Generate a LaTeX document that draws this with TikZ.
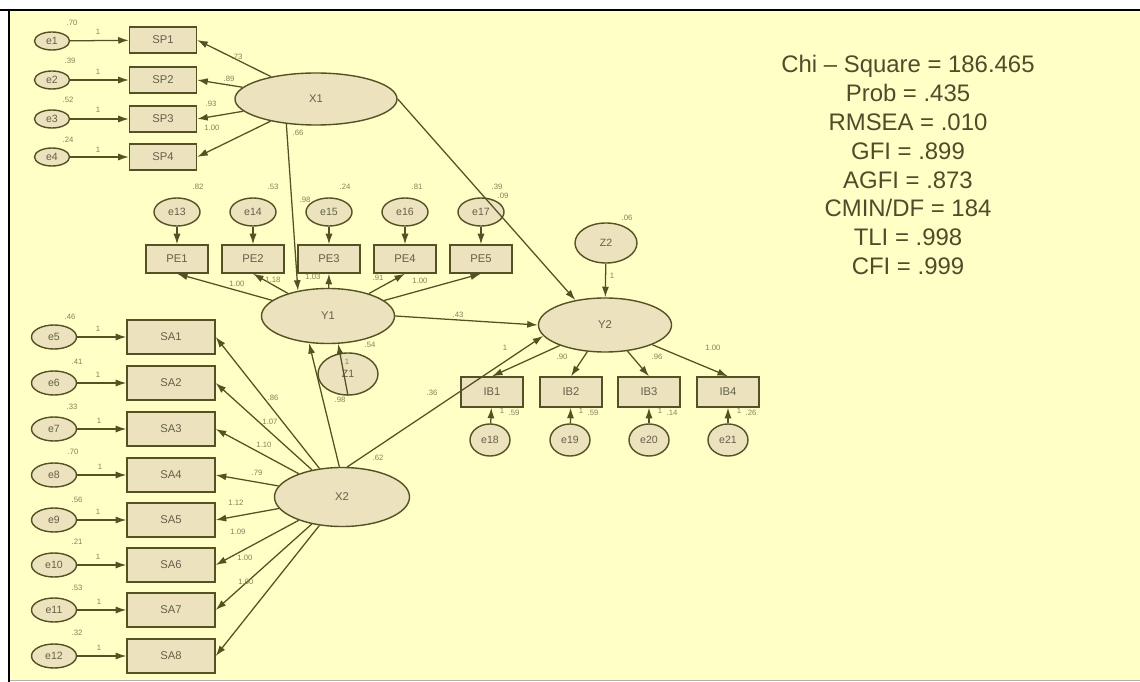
\documentclass[tikz,border=0pt]{standalone}
\usepackage{fontspec}
\setmainfont{Liberation Sans}
\usetikzlibrary{shapes.geometric,arrows.meta}
\definecolor{amosbg}{RGB}{255,255,198}
\definecolor{amosfill}{RGB}{236,226,190}
\definecolor{amosline}{RGB}{84,82,36}
\definecolor{amostext}{RGB}{100,96,74}
\definecolor{amoslab}{RGB}{135,128,90}
\definecolor{fittext}{RGB}{78,76,42}
\begin{document}
\begin{tikzpicture}[x=0.025cm,y=-0.025cm,
  obs/.style={draw=amosline,fill=amosfill,line width=1pt,inner sep=0pt,text=amostext,font=\fontsize{8}{9}\selectfont},
  lat/.style={obs,ellipse},
  err/.style={obs,ellipse,font=\fontsize{7.5}{8}\selectfont},
  path/.style={draw=amosline,line width=0.9pt,-{Latex[length=7.5pt,width=5pt]}},
  lab/.style={text=amoslab,inner sep=0pt,font=\fontsize{5.5}{6}\selectfont}]
\useasboundingbox (0,0) rectangle (1140,682);
% frame
\fill[white] (0,0) rectangle (1140,682);
\fill[amosbg] (10,11) rectangle (1140,680);
\draw[black,line width=2pt] (0,10) -- (1140,10);
\draw[black,line width=2pt] (9,10) -- (9,682);
\draw[gray!60,line width=0.6pt] (10,680) -- (1140,680);

% X1 block
\node[lat,minimum width=4.05cm,minimum height=1.3cm] (X1) at (316,99) {X1};
\node[obs,minimum width=1.675cm,minimum height=0.65cm] (SP1) at (163,40) {SP1};
\node[obs,minimum width=1.675cm,minimum height=0.65cm] (SP2) at (163,80) {SP2};
\node[obs,minimum width=1.675cm,minimum height=0.65cm] (SP3) at (163,119) {SP3};
\node[obs,minimum width=1.675cm,minimum height=0.65cm] (SP4) at (163,157) {SP4};
\node[err,minimum width=0.875cm,minimum height=0.45cm] (e1) at (52,41) {e1};
\node[err,minimum width=0.875cm,minimum height=0.45cm] (e2) at (52,80) {e2};
\node[err,minimum width=0.875cm,minimum height=0.45cm] (e3) at (52,119) {e3};
\node[err,minimum width=0.875cm,minimum height=0.45cm] (e4) at (52,157) {e4};
\draw[path] (e1) -- (SP1);
\draw[path] (e2) -- (SP2);
\draw[path] (e3) -- (SP3);
\draw[path] (e4) -- (SP4);
\draw[path] (X1) -- (SP1.east);
\draw[path] (X1) -- (SP2.east);
\draw[path] (X1) -- (SP3.east);
\draw[path] (X1) -- (SP4.east);

% Y1 block
\node[lat,minimum width=3.325cm,minimum height=1.375cm] (Y1) at (328,316) {Y1};
\node[obs,minimum width=1.55cm,minimum height=0.7cm] (PE1) at (177,259) {PE1};
\node[obs,minimum width=1.55cm,minimum height=0.7cm] (PE2) at (253,259) {PE2};
\node[obs,minimum width=1.55cm,minimum height=0.7cm] (PE3) at (329,259) {PE3};
\node[obs,minimum width=1.55cm,minimum height=0.7cm] (PE4) at (405,259) {PE4};
\node[obs,minimum width=1.55cm,minimum height=0.7cm] (PE5) at (481,259) {PE5};
\node[err,minimum width=1.15cm,minimum height=0.7cm] (e13) at (177,212) {e13};
\node[err,minimum width=1.15cm,minimum height=0.7cm] (e14) at (253,212) {e14};
\node[err,minimum width=1.15cm,minimum height=0.7cm] (e15) at (329,212) {e15};
\node[err,minimum width=1.15cm,minimum height=0.7cm] (e16) at (405,212) {e16};
\node[err,minimum width=1.15cm,minimum height=0.7cm] (e17) at (481,212) {e17};
\draw[path] (e13) -- (PE1);
\draw[path] (e14) -- (PE2);
\draw[path] (e15) -- (PE3);
\draw[path] (e16) -- (PE4);
\draw[path] (e17) -- (PE5);
\draw[path] (Y1) -- (PE1.south);
\draw[path] (Y1) -- (PE2.south);
\draw[path] (Y1) -- (PE3.south);
\draw[path] (Y1) -- (PE4.south);
\draw[path] (Y1) -- (PE5.south);
\node[err,minimum width=1.5cm,minimum height=1.05cm] (Z1) at (348,374) {Z1};
\draw[path] (Z1.south) -- (Y1.290);

% Y2 block
\node[lat,minimum width=3.325cm,minimum height=1.35cm] (Y2) at (605,325) {Y2};
\node[err,minimum width=1.55cm,minimum height=1.0cm] (Z2) at (606,243) {Z2};
\node[obs,minimum width=1.55cm,minimum height=0.75cm] (IB1) at (492,392) {IB1};
\node[obs,minimum width=1.55cm,minimum height=0.75cm] (IB2) at (571,392) {IB2};
\node[obs,minimum width=1.55cm,minimum height=0.75cm] (IB3) at (649,392) {IB3};
\node[obs,minimum width=1.55cm,minimum height=0.75cm] (IB4) at (728,392) {IB4};
\node[err,minimum width=1.0cm,minimum height=0.8cm] (e18) at (490,440) {e18};
\node[err,minimum width=1.0cm,minimum height=0.8cm] (e19) at (570,440) {e19};
\node[err,minimum width=1.0cm,minimum height=0.8cm] (e20) at (649,440) {e20};
\node[err,minimum width=1.0cm,minimum height=0.8cm] (e21) at (728,440) {e21};
\draw[path] (Z2) -- (Y2);
\draw[path] (Y2) -- (IB1.north);
\draw[path] (Y2) -- (IB2.north);
\draw[path] (Y2) -- (IB3.north);
\draw[path] (Y2) -- (IB4.north);
\draw[path] (e18) -- (IB1);
\draw[path] (e19) -- (IB2);
\draw[path] (e20) -- (IB3);
\draw[path] (e21) -- (IB4);

% X2 block
\node[lat,minimum width=3.375cm,minimum height=1.475cm] (X2) at (342,497) {X2};
\node[obs,minimum width=2.2cm,minimum height=0.85cm] (SA1) at (171,337) {SA1};
\node[obs,minimum width=2.2cm,minimum height=0.85cm] (SA2) at (171,383) {SA2};
\node[obs,minimum width=2.2cm,minimum height=0.85cm] (SA3) at (171,429) {SA3};
\node[obs,minimum width=2.2cm,minimum height=0.85cm] (SA4) at (171,475) {SA4};
\node[obs,minimum width=2.2cm,minimum height=0.85cm] (SA5) at (171,520) {SA5};
\node[obs,minimum width=2.2cm,minimum height=0.85cm] (SA6) at (171,565) {SA6};
\node[obs,minimum width=2.2cm,minimum height=0.85cm] (SA7) at (171,610) {SA7};
\node[obs,minimum width=2.2cm,minimum height=0.85cm] (SA8) at (171,656) {SA8};
\node[err,minimum width=1.125cm,minimum height=0.6cm] (e5) at (54,337) {e5};
\node[err,minimum width=1.125cm,minimum height=0.6cm] (e6) at (54,383) {e6};
\node[err,minimum width=1.125cm,minimum height=0.6cm] (e7) at (54,429) {e7};
\node[err,minimum width=1.125cm,minimum height=0.6cm] (e8) at (54,475) {e8};
\node[err,minimum width=1.125cm,minimum height=0.6cm] (e9) at (54,520) {e9};
\node[err,minimum width=1.125cm,minimum height=0.6cm] (e10) at (54,565) {e10};
\node[err,minimum width=1.125cm,minimum height=0.6cm] (e11) at (54,610) {e11};
\node[err,minimum width=1.125cm,minimum height=0.6cm] (e12) at (54,656) {e12};
\draw[path] (e5) -- (SA1);
\draw[path] (e6) -- (SA2);
\draw[path] (e7) -- (SA3);
\draw[path] (e8) -- (SA4);
\draw[path] (e9) -- (SA5);
\draw[path] (e10) -- (SA6);
\draw[path] (e11) -- (SA7);
\draw[path] (e12) -- (SA8);
\draw[path] (X2) -- (SA1.east);
\draw[path] (X2) -- (SA2.east);
\draw[path] (X2) -- (SA3.east);
\draw[path] (X2) -- (SA4.east);
\draw[path] (X2) -- (SA5.east);
\draw[path] (X2) -- (SA6.east);
\draw[path] (X2) -- (SA7.east);
\draw[path] (X2) -- (SA8.east);

% structural paths
\draw[path] (X1.220) -- (Y1.140);
\draw[path] (X1.east) -- (Y2.140);
\draw[path] (Y1.east) -- (Y2.west);
\draw[path] (X2.95) -- (Y1.235);
\draw[path] (X2.80) -- (Y2.190);

% estimates
\node[lab] (vE1) at (72,23) {.70};
\node[lab] (vE2) at (70,61) {.39};
\node[lab] (vE3) at (68,100) {.52};
\node[lab] (vE4) at (68,140) {.24};
\node[lab] (fE1) at (98,32) {1};
\node[lab] (fE2) at (98,72) {1};
\node[lab] (fE3) at (98,110) {1};
\node[lab] (fE4) at (98,150) {1};
\node[lab] (wSP1) at (237,57) {.73};
\node[lab] (wSP2) at (229,79) {.89};
\node[lab] (wSP3) at (211,104) {.93};
\node[lab] (wSP4) at (212,128) {1.00};
\node[lab] (gXY1) at (298,133) {.66};
\node[lab] (vE13) at (198,187) {.82};
\node[lab] (vE14) at (273,187) {.53};
\node[lab] (vE15) at (345,187) {.24};
\node[lab] (vE16) at (417,187) {.81};
\node[lab] (vE17) at (497,187) {.39};
\node[lab] (rPE3) at (305,200) {.98};
\node[lab] (rPE5) at (503,196) {.09};
\node[lab] (wPE1) at (237,284) {1.00};
\node[lab] (wPE2) at (273,280) {1.18};
\node[lab] (wPE3) at (313,277) {1.03};
\node[lab] (wPE4) at (378,278) {.91};
\node[lab] (wPE5) at (420,281) {1.00};
\node[lab] (bY12) at (458,315) {.43};
\node[lab] (fZ1) at (347,362) {1};
\node[lab] (vZ1) at (370,345) {.54};
\node[lab] (rZ1) at (340,400) {.98};
\node[lab] (vZ2) at (627,218) {.06};
\node[lab] (fZ2) at (612,276) {1};
\node[lab] (wIB1) at (505,348) {1};
\node[lab] (wIB2) at (562,357) {.90};
\node[lab] (wIB3) at (657,357) {.96};
\node[lab] (wIB4) at (713,348) {1.00};
\node[lab] (fE18) at (502,411) {1};
\node[lab] (vE18) at (514,413) {.59};
\node[lab] (fE19) at (581,411) {1};
\node[lab] (vE19) at (593,413) {.59};
\node[lab] (fE20) at (660,411) {1};
\node[lab] (vE20) at (672,413) {.14};
\node[lab] (fE21) at (739,411) {1};
\node[lab] (vE21) at (751,413) {.26};
\node[lab] (gXY2) at (432,393) {.36};
\node[lab] (gXY3) at (378,458) {.62};
\node[lab] (vE5) at (70,317) {.46};
\node[lab] (vE6) at (77,362) {.41};
\node[lab] (vE7) at (72,407) {.33};
\node[lab] (vE8) at (73,452) {.70};
\node[lab] (vE9) at (77,500) {.56};
\node[lab] (vE10) at (77,542) {.21};
\node[lab] (vE11) at (77,588) {.53};
\node[lab] (vE12) at (77,633) {.32};
\node[lab] (fE5) at (98,329) {1};
\node[lab] (fE6) at (98,375) {1};
\node[lab] (fE7) at (99,421) {1};
\node[lab] (fE8) at (100,467) {1};
\node[lab] (fE9) at (98,512) {1};
\node[lab] (fE10) at (98,557) {1};
\node[lab] (fE11) at (99,602) {1};
\node[lab] (fE12) at (99,648) {1};
\node[lab] (wSA1) at (273,398) {.86};
\node[lab] (wSA2) at (270,422) {1.07};
\node[lab] (wSA3) at (264,445) {1.10};
\node[lab] (wSA4) at (257,473) {.79};
\node[lab] (wSA5) at (236,503) {1.12};
\node[lab] (wSA6) at (238,532) {1.09};
\node[lab] (wSA7) at (245,558) {1.00};
\node[lab] (wSA8) at (246,582) {1.00};

% fit indices
\node[text=fittext,align=center,inner sep=0pt,font=\fontsize{17}{20.6}\selectfont] (fit) at (908,165)
  {Chi – Square = 186.465\\Prob = .435\\RMSEA = .010\\GFI = .899\\AGFI = .873\\CMIN/DF = 184\\TLI = .998\\CFI = .999};
\end{tikzpicture}
\end{document}
